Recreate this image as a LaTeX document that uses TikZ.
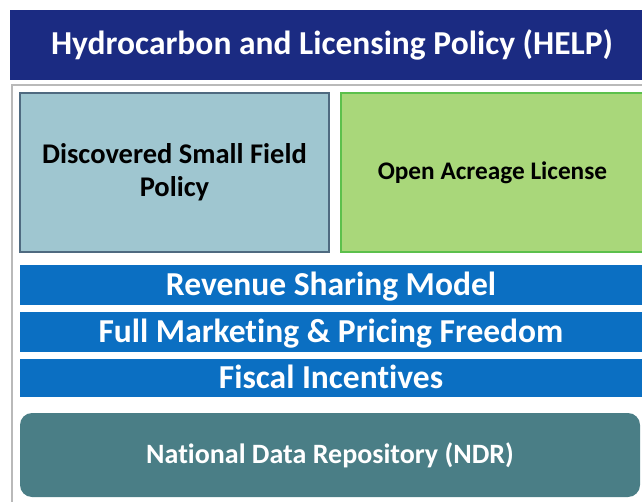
\documentclass[tikz,border=0pt]{standalone}
\usepackage{fontspec}
\setmainfont{Carlito}[Ligatures=NoCommon]
\usetikzlibrary{positioning}
\definecolor{helpnavy}{HTML}{1B2B82}
\definecolor{dsfill}{HTML}{9FC6D0}
\definecolor{dsline}{HTML}{4F6A80}
\definecolor{oafill}{HTML}{A9D77A}
\definecolor{oaline}{HTML}{5CC04C}
\definecolor{barblue}{HTML}{0B6FC2}
\definecolor{ndrteal}{HTML}{4A7E86}
\tikzset{
  x=1pt, y=-1pt,
  every node/.style={inner sep=0pt, outer sep=0pt, anchor=north west, align=center, font=\bfseries},
  header/.style={fill=helpnavy, text=white, font=\bfseries\fontsize{33.5}{36}\selectfont},
  policy/.style={line width=1.3pt, font=\bfseries\fontsize{28.5}{33}\selectfont},
  bar/.style={fill=barblue, text=white, minimum width=622pt, minimum height=40pt, text depth=3pt, font=\bfseries\fontsize{33.5}{36}\selectfont},
  repo/.style={fill=ndrteal, text=white, rounded corners=12pt, font=\bfseries\fontsize{28}{30}\selectfont},
}

\begin{document}
\begin{tikzpicture}
  \useasboundingbox (0,0) rectangle (642,502);
  \clip (0,0) rectangle (642,502);

  % top banner
  \node[header, minimum width=644pt, minimum height=70pt] (help) at (10,10)
       {Hydrocarbon and Licensing Policy (HELP)};

  % frame round the parts
  \draw[gray!55, line width=1.6pt] (12,505) -- (12,85) -- (650,85);

  % the two policies
  \node[policy, draw=dsline, fill=dsfill, minimum width=309pt, minimum height=159pt] (dsf) at (20,93)
       {Discovered Small Field\\Policy};
  \node[policy, draw=oaline, fill=oafill, minimum width=303pt, minimum height=159pt,
        font=\bfseries\fontsize{25.3}{28}\selectfont] (oal) at (341,93)
       {Open Acreage License};

  % common features
  \node[bar] (rsm) at (20,265) {Revenue Sharing Model};
  \node[bar] (fmp) at (20,312) {Full Marketing \& Pricing Freedom};
  \node[bar, minimum height=38pt] (fis) at (20,359) {Fiscal Incentives};

  % data repository
  \node[repo, minimum width=620pt, minimum height=84pt] (ndr) at (20,413)
       {National Data Repository (NDR)};
\end{tikzpicture}
\end{document}
